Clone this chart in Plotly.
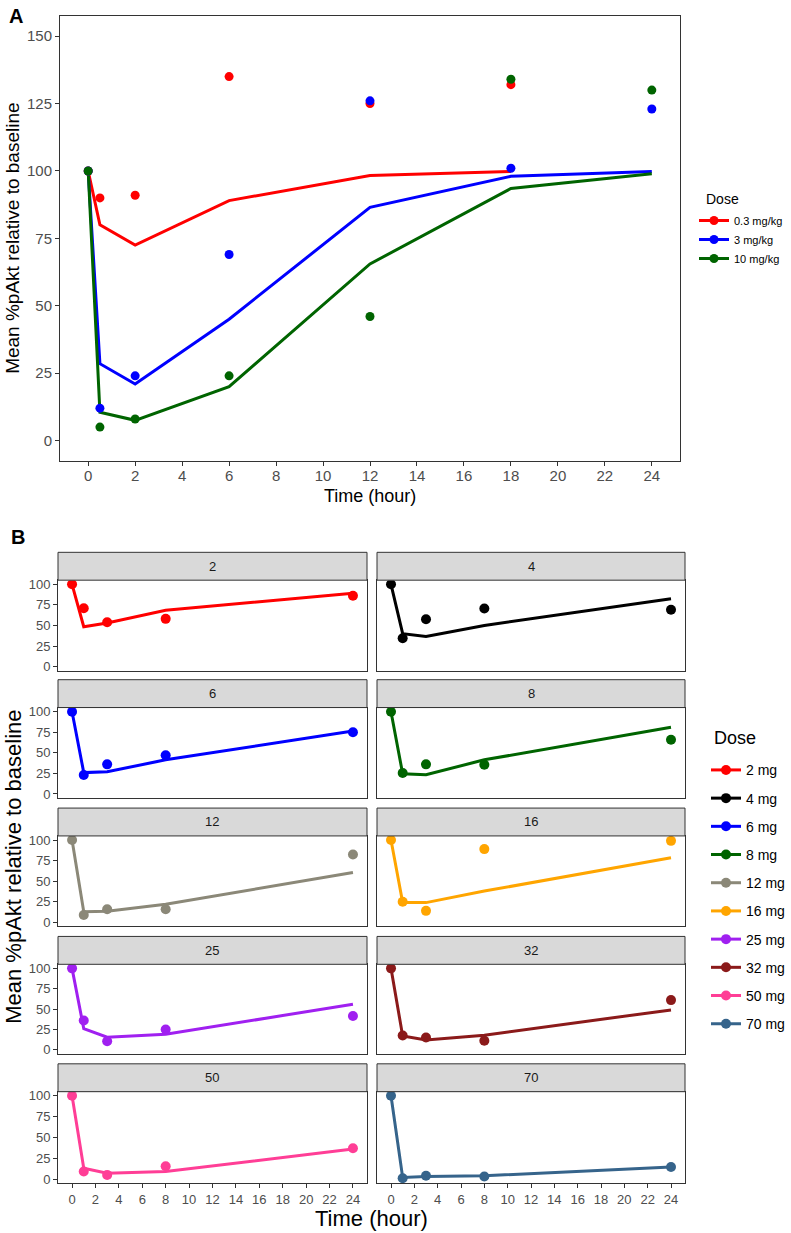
import plotly.graph_objects as go

W, H = 791, 1233
FONT = "Liberation Sans, Arial, Helvetica, sans-serif"

# ---------------- Panel A data ----------------
a_doses = ["0.3 mg/kg", "3 mg/kg", "10 mg/kg"]
a_colors = ["#FF0000", "#0000FF", "#006400"]

a_obs_t_03 = [0, 0.5, 2, 6, 12, 18]
a_obs_y_03 = [100, 90, 91, 135, 125, 132]
a_pred_t_03 = [0, 0.5, 2, 6, 12, 18]
a_pred_y_03 = [100, 80, 72.5, 89, 98.3, 99.8]

a_obs_t_3 = [0, 0.5, 2, 6, 12, 18, 24]
a_obs_y_3 = [100, 12, 24, 69, 126, 101, 123]
a_pred_t_3 = [0, 0.5, 2, 6, 12, 18, 24]
a_pred_y_3 = [100, 28.5, 21, 45, 86.5, 98, 99.8]

a_obs_t_10 = [0, 0.5, 2, 6, 12, 18, 24]
a_obs_y_10 = [100, 5, 8, 24, 46, 134, 130]
a_pred_t_10 = [0, 0.5, 2, 6, 12, 18, 24]
a_pred_y_10 = [100, 10.5, 7.5, 20, 65.5, 93.5, 99]

a_xticks = list(range(0, 25, 2))
a_yticks = [0, 25, 50, 75, 100, 125, 150]

# ---------------- Panel B data ----------------
b_doses = ["2 mg", "4 mg", "6 mg", "8 mg", "12 mg", "16 mg", "25 mg", "32 mg", "50 mg", "70 mg"]
b_facets = ["2", "4", "6", "8", "12", "16", "25", "32", "50", "70"]
b_colors = ["#FF0000", "#000000", "#0000FF", "#006400", "#8B8878",
            "#FFA500", "#A020F0", "#8B1A1A", "#FF3E96", "#36648B"]
b_time = [0, 1, 3, 8, 24]

b_obs_2 = [100, 71, 54, 58, 86]
b_pred_2 = [100, 48.5, 53, 68.5, 89]
b_obs_4 = [100, 34.5, 57.5, 70.5, 69]
b_pred_4 = [100, 40, 36.5, 50, 82.5]
b_obs_6 = [100, 23, 36, 47, 75]
b_pred_6 = [100, 26, 27, 41.5, 76.5]
b_obs_8 = [100, 25.5, 36, 35.5, 66]
b_pred_8 = [100, 24.5, 23.5, 41.5, 81]
b_obs_12 = [100, 9, 16, 16, 82.5]
b_pred_12 = [100, 13, 13.5, 22, 60.5]
b_obs_16 = [100, 25, 14, 89, 99]
b_pred_16 = [100, 24, 24, 38, 78.5]
b_obs_25 = [100, 36, 10.5, 25, 41.5]
b_pred_25 = [100, 26, 15.5, 19, 56]
b_obs_32 = [100, 17.5, 15, 11, 61]
b_pred_32 = [100, 17, 12, 18, 49]
b_obs_50 = [100, 9, 5, 15.5, 37]
b_pred_50 = [100, 13, 7, 9, 36]
b_obs_70 = [100, 1, 4, 3, 14.5]
b_pred_70 = [100, 2, 3, 4, 14.5]

b_obs = [b_obs_2, b_obs_4, b_obs_6, b_obs_8, b_obs_12, b_obs_16, b_obs_25, b_obs_32, b_obs_50, b_obs_70]
b_pred = [b_pred_2, b_pred_4, b_pred_6, b_pred_8, b_pred_12, b_pred_16, b_pred_25, b_pred_32, b_pred_50, b_pred_70]
b_xticks = list(range(0, 25, 2))
b_yticks = [0, 25, 50, 75, 100]


def fx(p):
    return p / W


def fy(p):
    return 1 - p / H


fig = go.Figure()
AX = "#333333"
TICKC = "#4D4D4D"

# ---------- Panel A traces ----------
a_obs = [(a_obs_t_03, a_obs_y_03), (a_obs_t_3, a_obs_y_3), (a_obs_t_10, a_obs_y_10)]
a_pred = [(a_pred_t_03, a_pred_y_03), (a_pred_t_3, a_pred_y_3), (a_pred_t_10, a_pred_y_10)]
for i, d in enumerate(a_doses):
    fig.add_trace(go.Scatter(x=a_pred[i][0], y=a_pred[i][1], mode="lines",
                             line=dict(color=a_colors[i], width=3),
                             xaxis="x", yaxis="y", showlegend=False, hoverinfo="skip"))
for i, d in enumerate(a_doses):
    fig.add_trace(go.Scatter(x=a_obs[i][0], y=a_obs[i][1], mode="markers",
                             marker=dict(color=a_colors[i], size=9),
                             xaxis="x", yaxis="y", showlegend=False))
for i, d in enumerate(a_doses):
    fig.add_trace(go.Scatter(x=[None], y=[None], mode="lines+markers", name=d,
                             line=dict(color=a_colors[i], width=3),
                             marker=dict(color=a_colors[i], size=9),
                             xaxis="x", yaxis="y", legend="legend", legendgroup="a" + str(i)))

layout = dict(
    width=W, height=H, margin=dict(l=0, r=0, t=0, b=0),
    paper_bgcolor="white", plot_bgcolor="white",
    font=dict(family=FONT, color="#000000"),
    showlegend=True,
)

common_ax = dict(showgrid=False, zeroline=False, showline=True, mirror=True,
                 linecolor=AX, linewidth=1, ticks="outside", ticklen=4, tickcolor=AX)

layout["xaxis"] = dict(common_ax, domain=[fx(60), fx(680)], range=[-1.2, 25.2],
                       tickvals=a_xticks, anchor="y", ticklabelstandoff=-3,
                       tickfont=dict(size=15, color=TICKC, family=FONT))
layout["yaxis"] = dict(common_ax, domain=[fy(460), fy(13)], range=[-7.5, 157.5],
                       tickvals=a_yticks, anchor="x",
                       tickfont=dict(size=15, color=TICKC, family=FONT))

# ---------- Panel B ----------
col_x = [(58, 367), (377, 685)]
row_top = [580, 708, 837, 966, 1094]
row_bot = [671, 799, 928, 1056, 1186]
STRIP = 28

shapes = []
annotations = []

for k in range(10):
    r, c = k // 2, k % 2
    n = k + 2
    xa, ya = "x%d" % n, "y%d" % n
    fig.add_trace(go.Scatter(x=b_time, y=b_pred[k], mode="lines",
                             line=dict(color=b_colors[k], width=3),
                             xaxis=xa, yaxis=ya, showlegend=False, hoverinfo="skip"))
    fig.add_trace(go.Scatter(x=b_time, y=b_obs[k], mode="markers",
                             marker=dict(color=b_colors[k], size=10),
                             xaxis=xa, yaxis=ya, showlegend=False))
    bottom = (r == 4)
    left = (c == 0)
    layout["xaxis%d" % n] = dict(common_ax, domain=[fx(col_x[c][0]), fx(col_x[c][1])],
                                 range=[-1.2, 25.2], tickvals=b_xticks, anchor=ya,
                                 showticklabels=bottom, ticks="outside" if bottom else "",
                                 tickfont=dict(size=13, color=TICKC, family=FONT))
    layout["yaxis%d" % n] = dict(common_ax, domain=[fy(row_bot[r]), fy(row_top[r])],
                                 range=[-5, 105], tickvals=b_yticks, anchor=xa,
                                 showticklabels=left, ticks="outside" if left else "",
                                 tickfont=dict(size=13, color=TICKC, family=FONT))
    # strip
    shapes.append(dict(type="rect", xref="paper", yref="paper",
                       x0=fx(col_x[c][0]), x1=fx(col_x[c][1]),
                       y0=fy(row_top[r]), y1=fy(row_top[r] - STRIP),
                       fillcolor="#D9D9D9", line=dict(color=AX, width=1), layer="above"))
    annotations.append(dict(text=b_facets[k], xref="paper", yref="paper",
                            x=fx((col_x[c][0] + col_x[c][1]) / 2),
                            y=fy(row_top[r] - STRIP / 2), showarrow=False,
                            xanchor="center", yanchor="middle",
                            font=dict(size=13, color="#1A1A1A", family=FONT)))

for k, d in enumerate(b_doses):
    fig.add_trace(go.Scatter(x=[None], y=[None], mode="lines+markers", name=d,
                             line=dict(color=b_colors[k], width=3),
                             marker=dict(color=b_colors[k], size=10),
                             xaxis="x2", yaxis="y2", legend="legend2", legendgroup="b" + str(k)))

# panel labels, axis titles, legend titles
annotations += [
    dict(text="<b>A</b>", x=fx(7), y=fy(13), xref="paper", yref="paper", showarrow=False,
         xanchor="left", yanchor="middle", font=dict(size=20, family=FONT)),
    dict(text="<b>B</b>", x=fx(9), y=fy(537), xref="paper", yref="paper", showarrow=False,
         xanchor="left", yanchor="middle", font=dict(size=20, family=FONT)),
    dict(text="Mean %pAkt relative to baseline", x=fx(13), y=fy(237), xref="paper", yref="paper",
         showarrow=False, textangle=-90, xanchor="center", yanchor="middle",
         font=dict(size=19, family=FONT)),
    dict(text="Time (hour)", x=fx(370), y=fy(495), xref="paper", yref="paper",
         showarrow=False, xanchor="center", yanchor="middle", font=dict(size=18, family=FONT)),
    dict(text="Mean %pAkt relative to baseline", x=fx(14), y=fy(868), xref="paper", yref="paper",
         showarrow=False, textangle=-90, xanchor="center", yanchor="middle",
         font=dict(size=22, family=FONT)),
    dict(text="Time (hour)", x=fx(371), y=fy(1221), xref="paper", yref="paper",
         showarrow=False, xanchor="center", yanchor="middle", font=dict(size=22, family=FONT)),
    dict(text="Dose", x=fx(704), y=fy(197), xref="paper", yref="paper",
         showarrow=False, xanchor="left", yanchor="middle", font=dict(size=14, family=FONT)),
    dict(text="Dose", x=fx(712), y=fy(739), xref="paper", yref="paper",
         showarrow=False, xanchor="left", yanchor="middle", font=dict(size=18, family=FONT)),
]

layout["shapes"] = shapes
layout["annotations"] = annotations
layout["legend"] = dict(x=fx(694), y=fy(204), xanchor="left", yanchor="top",
                        font=dict(size=11, family=FONT), tracegroupgap=0,
                        bgcolor="rgba(0,0,0,0)", itemwidth=30)
layout["legend2"] = dict(x=fx(706), y=fy(755), xanchor="left", yanchor="top",
                         font=dict(size=14, family=FONT), tracegroupgap=7,
                         bgcolor="rgba(0,0,0,0)", itemwidth=30)

fig.update_layout(**layout)
fig.write_html("out.html", config={"displayModeBar": False},
               post_script="document.body.style.margin='0px';document.body.style.overflow='hidden';")
